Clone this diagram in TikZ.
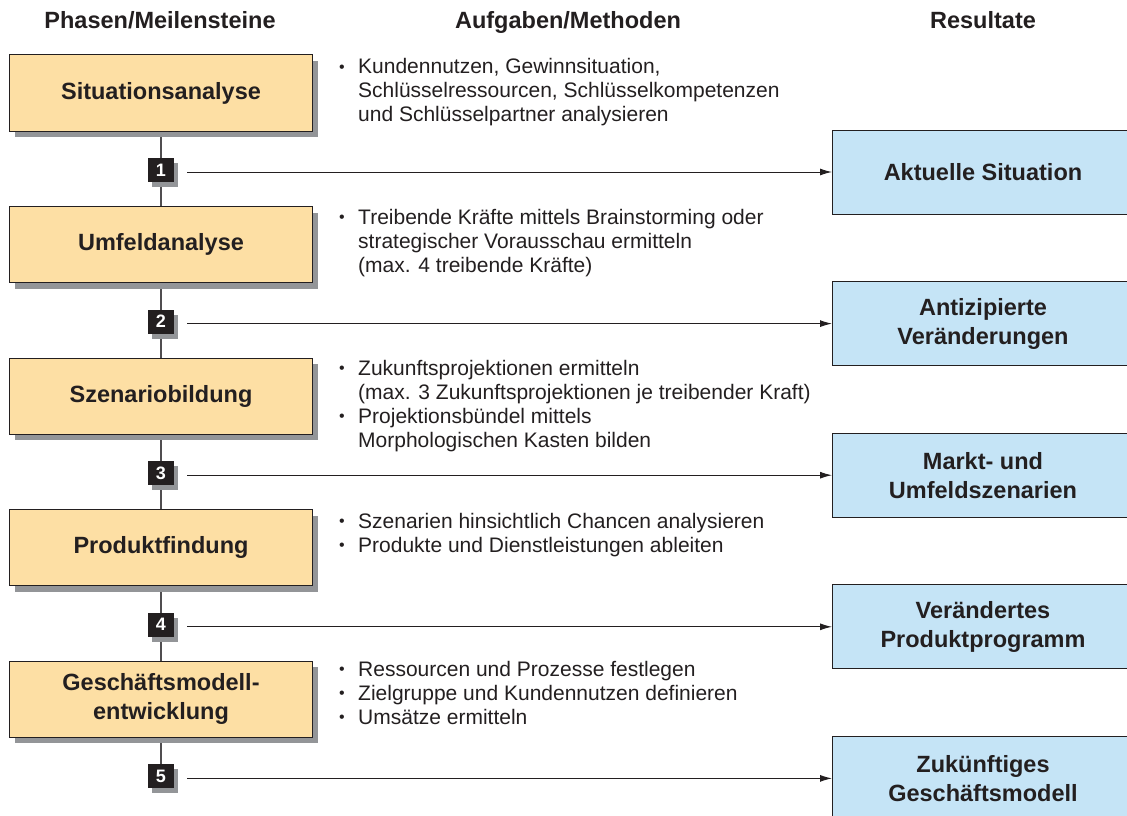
\documentclass[tikz,border=0pt]{standalone}
\usepackage{fontspec}
\setmainfont{Liberation Sans}
\usetikzlibrary{arrows.meta,shadows}
\definecolor{phasefill}{RGB}{253,223,164}
\definecolor{resultfill}{RGB}{197,228,246}
\definecolor{shadowgray}{RGB}{147,149,152}
\definecolor{edgedark}{RGB}{35,31,32}
\definecolor{linegray}{RGB}{80,78,80}
\pgfdeclarelayer{background}
\pgfsetlayers{background,main}
\newcommand{\titlefont}{\fontsize{23.5}{29}\bfseries\selectfont}
\newcommand{\bodyfont}{\fontsize{21}{24}\selectfont}
\newcommand{\numfont}{\fontsize{18}{20}\bfseries\selectfont}
\newcommand{\bul}{\makebox[20pt][l]{\hspace{1pt}\raisebox{1.5pt}{\fontsize{16}{16}\selectfont •}}}
\begin{document}
\begin{tikzpicture}[x=1pt,y=-1pt, every node/.style={text=edgedark},
  phasebox/.style={draw=edgedark, line width=1pt, fill=phasefill,
    minimum width=303pt, minimum height=76pt, inner sep=0pt, align=center,
    font=\titlefont,
    drop shadow={shadow xshift=5pt, shadow yshift=-6pt, fill=shadowgray, opacity=1}},
  resultbox/.style={draw=edgedark, line width=1pt, fill=resultfill,
    minimum width=301pt, minimum height=84pt, inner sep=0pt, align=center,
    font=\titlefont, anchor=west},
  numbox/.style={fill=edgedark, text=white, font=\numfont,
    minimum width=26pt, minimum height=24pt, inner sep=0pt,
    drop shadow={shadow xshift=4pt, shadow yshift=-5pt, fill=shadowgray, opacity=1}},
  tasktext/.style={anchor=base west, inner sep=0pt, font=\bodyfont},
  header/.style={anchor=base, inner sep=0pt, font=\titlefont},
  flow/.style={draw=linegray, line width=1.5pt},
  result arrow/.style={draw=edgedark, line width=1pt, -{Latex[length=12pt,width=7pt]}}
]
\useasboundingbox (0,0) rectangle (1127,816);
\clip (0,0) rectangle (1127,816);

% column headers
\node[header] (h1) at (160,29) {Phasen/Meilensteine};
\node[header] (h2) at (568,29) {Aufgaben/Methoden};
\node[header] (h3) at (983,29) {Resultate};

% phases
\node[phasebox] (p1) at (161,93)    {Situationsanalyse};
\node[phasebox] (p2) at (161,244.6) {Umfeldanalyse};
\node[phasebox] (p3) at (161,396.2) {Szenariobildung};
\node[phasebox] (p4) at (161,547.8) {Produktfindung};
\node[phasebox] (p5) at (161,699.4) {Geschäftsmodell-\\entwicklung};

% milestones
\node[numbox] (m1) at (161,170)   {1};
\node[numbox] (m2) at (161,321.6) {2};
\node[numbox] (m3) at (161,473.2) {3};
\node[numbox] (m4) at (161,624.8) {4};
\node[numbox] (m5) at (161,776.4) {5};

% results
\node[resultbox] (r1) at (832,172)   {Aktuelle Situation};
\node[resultbox] (r2) at (832,323.6) {Antizipierte\\Veränderungen};
\node[resultbox] (r3) at (832,475.2) {Markt- und\\Umfeldszenarien};
\node[resultbox] (r4) at (832,626.8) {Verändertes\\Produktprogramm};
\node[resultbox] (r5) at (832,778.4) {Zukünftiges\\Geschäftsmodell};

% tasks and methods
\node[tasktext] (t1) at (338,74) {\begin{tabular}[t]{@{}l@{}l@{}}
\bul & Kundennutzen, Gewinnsituation,\\
     & Schlüsselressourcen, Schlüsselkompetenzen\\
     & und Schlüsselpartner analysieren
\end{tabular}};
\node[tasktext] (t2) at (338,224) {\begin{tabular}[t]{@{}l@{}l@{}}
\bul & Treibende Kräfte mittels Brainstorming oder\\
     & strategischer Vorausschau ermitteln\\
     & (max. 4 treibende Kräfte)
\end{tabular}};
\node[tasktext] (t3) at (338,375) {\begin{tabular}[t]{@{}l@{}l@{}}
\bul & Zukunftsprojektionen ermitteln\\
     & (max. 3 Zukunftsprojektionen je treibender Kraft)\\
\bul & Projektionsbündel mittels\\
     & Morphologischen Kasten bilden
\end{tabular}};
\node[tasktext] (t4) at (338,528) {\begin{tabular}[t]{@{}l@{}l@{}}
\bul & Szenarien hinsichtlich Chancen analysieren\\
\bul & Produkte und Dienstleistungen ableiten
\end{tabular}};
\node[tasktext] (t5) at (338,676) {\begin{tabular}[t]{@{}l@{}l@{}}
\bul & Ressourcen und Prozesse festlegen\\
\bul & Zielgruppe und Kundennutzen definieren\\
\bul & Umsätze ermitteln
\end{tabular}};

% process line behind boxes
\begin{pgfonlayer}{background}
  \draw[flow] (p1.south) -- (p2.north);
  \draw[flow] (p2.south) -- (p3.north);
  \draw[flow] (p3.south) -- (p4.north);
  \draw[flow] (p4.south) -- (p5.north);
  \draw[flow] (p5.south) -- (m5.center);
\end{pgfonlayer}

% milestone results
\draw[result arrow] ([xshift=13pt]m1.east |- r1.west) -- (r1.west);
\draw[result arrow] ([xshift=13pt]m2.east |- r2.west) -- (r2.west);
\draw[result arrow] ([xshift=13pt]m3.east |- r3.west) -- (r3.west);
\draw[result arrow] ([xshift=13pt]m4.east |- r4.west) -- (r4.west);
\draw[result arrow] ([xshift=13pt]m5.east |- r5.west) -- (r5.west);
\end{tikzpicture}
\end{document}
